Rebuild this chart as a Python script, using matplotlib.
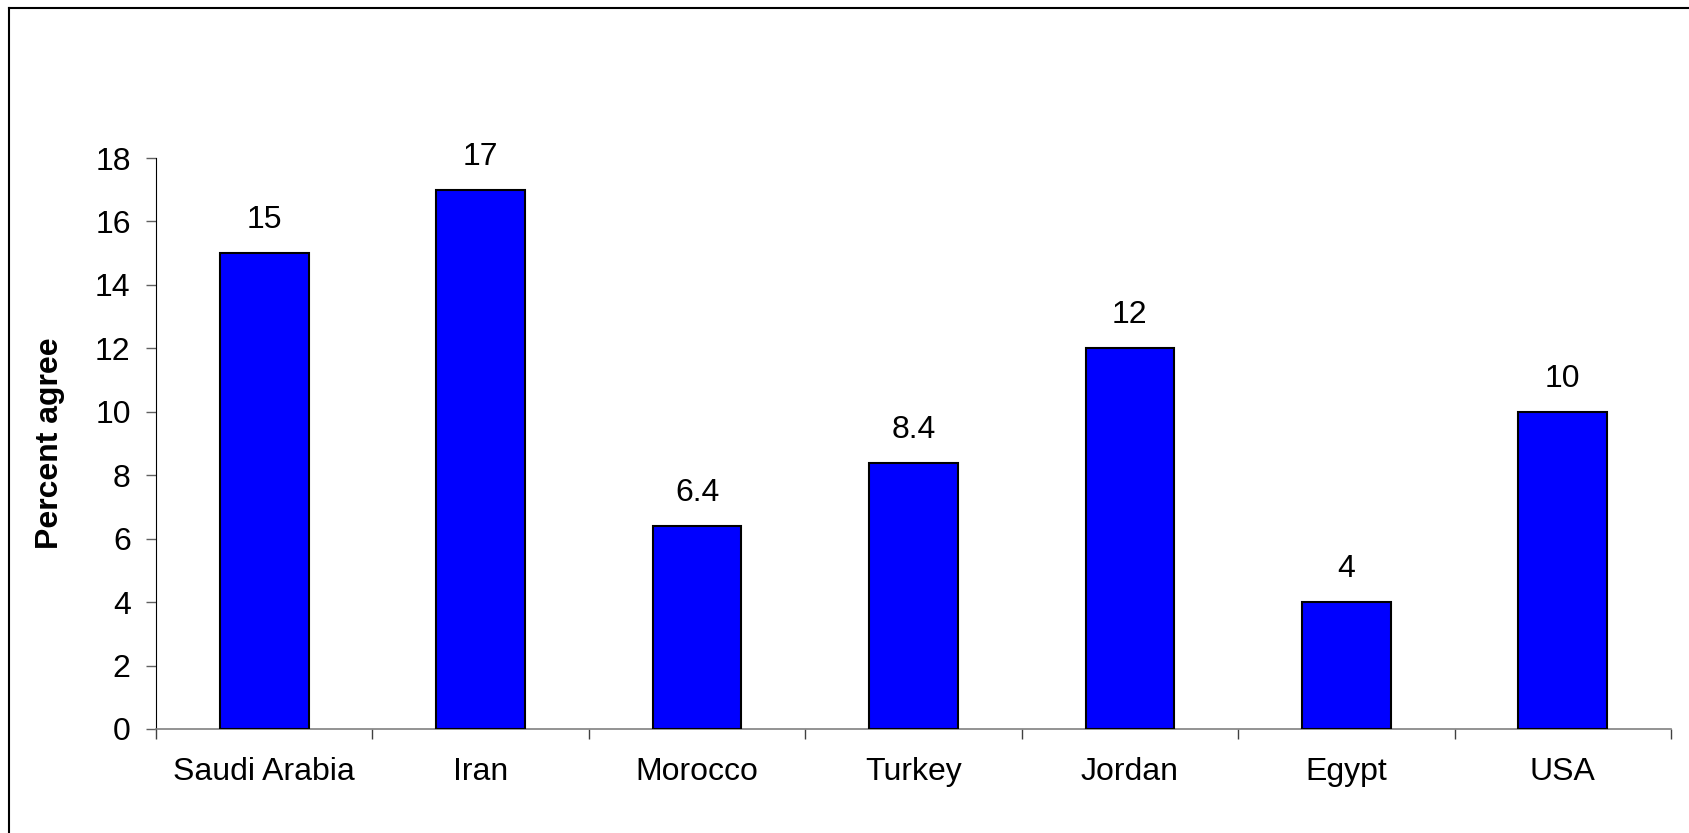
import numpy as np
import matplotlib
matplotlib.use('Agg')
import matplotlib.pyplot as plt
from matplotlib.lines import Line2D

# Percent agree per country
paises = ['Saudi Arabia', 'Iran', 'Morocco', 'Turkey', 'Jordan', 'Egypt', 'USA']
valores = [15, 17, 6.4, 8.4, 12, 4, 10]
rotulos = ['15', '17', '6.4', '8.4', '12', '4', '10']
yticks = [0, 2, 4, 6, 8, 10, 12, 14, 16, 18]

plt.rcParams['font.family'] = ['Liberation Sans', 'DejaVu Sans']

fig = plt.figure(figsize=(16.9, 8.33), dpi=100)
ax = fig.add_axes([156/1690, 1 - 729/833, (1671 - 156)/1690, (729 - 158)/833])

x = np.arange(len(paises))
barras = ax.bar(x, valores, width=0.41, color='#0000FF', edgecolor='black', linewidth=1.5, zorder=3)

for b, txt in zip(barras, rotulos):
    ax.annotate(txt, (b.get_x() + b.get_width()/2, b.get_height()),
                xytext=(0, 18), textcoords='offset points',
                ha='center', va='baseline', fontsize=23)

ax.set_xlim(-0.5, len(paises) - 0.5)
ax.set_ylim(0, 18)
ax.set_yticks(yticks)
ax.set_yticklabels([str(t) for t in yticks], fontsize=23)

# ticks nas divisas entre categorias, rotulos no centro
ax.set_xticks(np.arange(len(paises) + 1) - 0.5)
ax.set_xticklabels([])
ax.set_xticks(x, minor=True)
ax.set_xticklabels(paises, minor=True, fontsize=23)
ax.tick_params(axis='x', which='major', direction='out', length=7.2, width=1, color='#404040')
ax.tick_params(axis='x', which='minor', length=0, pad=20)
ax.tick_params(axis='y', direction='out', length=7.2, width=1, color='#606060', pad=11)

ax.spines['top'].set_visible(False)
ax.spines['right'].set_visible(False)
ax.spines['left'].set_color('black')
ax.spines['bottom'].set_color('#808080')
ax.spines['bottom'].set_linewidth(1.2)

ax.set_ylabel('Percent agree', fontsize=23, fontweight='bold', labelpad=14)
ax.yaxis.set_label_coords(-(156 - 65)/(1671 - 156), 0.5)

# moldura (so aparecem topo e esquerda)
fig.add_artist(Line2D([9/1690, 1], [1 - 8/833, 1 - 8/833], color='black', lw=1.5))
fig.add_artist(Line2D([9/1690, 9/1690], [0, 1 - 8/833], color='black', lw=1.5))

fig.savefig('out.png', dpi=100)
